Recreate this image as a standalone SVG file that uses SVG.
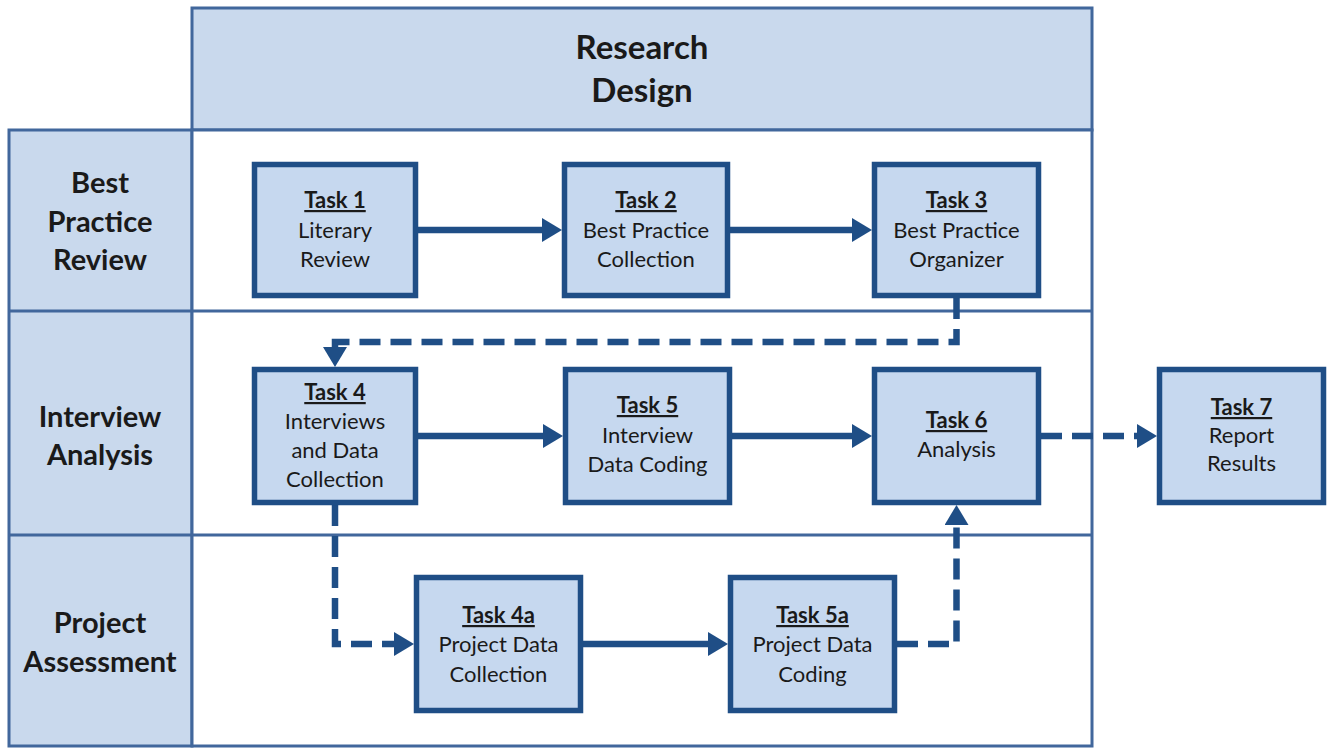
<svg xmlns="http://www.w3.org/2000/svg" width="1331" height="749" viewBox="0 0 1331 749">
<defs>
<style>
.frame{stroke:#41679c;stroke-width:3;}
.band{fill:#c9d9ed;}
.box{fill:#c6d8ef;stroke:#1f4e86;stroke-width:5.5;}
.conn{fill:none;stroke:#1f4e86;stroke-width:6.5;}
.dash{stroke-dasharray:21 10;}
.hdr{font-family:Lato,"Liberation Sans",sans-serif;font-weight:bold;fill:#1a1a1a;text-anchor:middle;}
.t{font-family:Lato,"Liberation Sans",sans-serif;font-size:22px;fill:#1a1a1a;text-anchor:middle;}
.tt{font-weight:bold;text-decoration:underline;}
</style>
<marker id="ah" markerUnits="userSpaceOnUse" viewBox="0 0 20 24" markerWidth="20" markerHeight="24" refX="1" refY="12" orient="auto">
<path d="M0,0 L20,12 L0,24 z" fill="#1f4e86"/>
</marker>
</defs>

<g id="frame">
<rect x="192" y="8" width="900" height="122" class="band frame"/>
<rect x="9" y="130" width="183" height="616" class="band frame"/>
<rect x="192" y="130" width="900" height="616" fill="#ffffff" class="frame"/>
<line x1="9" y1="311" x2="1092" y2="311" class="frame"/>
<line x1="9" y1="535" x2="1092" y2="535" class="frame"/>
</g>

<g id="header">
<text class="hdr" font-size="33" x="642" y="59">Research</text>
<text class="hdr" font-size="33" x="642" y="102">Design</text>
</g>

<g id="lane-best-practice">
<text class="hdr" font-size="29" x="100" y="193">Best</text>
<text class="hdr" font-size="29" x="100" y="232">Practice</text>
<text class="hdr" font-size="29" x="100" y="270">Review</text>
</g>
<g id="lane-interview">
<text class="hdr" font-size="29" x="100" y="427">Interview</text>
<text class="hdr" font-size="29" x="100" y="465">Analysis</text>
</g>
<g id="lane-project">
<text class="hdr" font-size="29" x="100" y="633">Project</text>
<text class="hdr" font-size="29" x="100" y="672">Assessment</text>
</g>

<g id="connectors">
<path class="conn" d="M418,230 H543" marker-end="url(#ah)"/>
<path class="conn" d="M730,230 H853" marker-end="url(#ah)"/>
<path class="conn" d="M418,436 H544" marker-end="url(#ah)"/>
<path class="conn" d="M732,436 H853" marker-end="url(#ah)"/>
<path class="conn" d="M583,644 H709" marker-end="url(#ah)"/>
<path class="conn dash" d="M956.5,298 V342 H335 V348" marker-end="url(#ah)"/>
<path class="conn dash" d="M335,505 V644 H395" marker-end="url(#ah)"/>
<path class="conn dash" d="M897,644 H956.5 V524" marker-end="url(#ah)"/>
<path class="conn dash" d="M1041,436 H1138" marker-end="url(#ah)"/>
</g>

<g id="task1">
<rect class="box" x="254.5" y="164.5" width="161" height="131"/>
<text class="t" x="335" y="208"><tspan class="tt">Task 1</tspan></text>
<text class="t" x="335" y="238">Literary</text>
<text class="t" x="335" y="267">Review</text>
</g>
<g id="task2">
<rect class="box" x="564.5" y="164.5" width="163" height="131"/>
<text class="t" x="646" y="208"><tspan class="tt">Task 2</tspan></text>
<text class="t" x="646" y="238">Best Practice</text>
<text class="t" x="646" y="267">Collection</text>
</g>
<g id="task3">
<rect class="box" x="874.5" y="164.5" width="164" height="131"/>
<text class="t" x="956.5" y="208"><tspan class="tt">Task 3</tspan></text>
<text class="t" x="956.5" y="238">Best Practice</text>
<text class="t" x="956.5" y="267">Organizer</text>
</g>
<g id="task4">
<rect class="box" x="254.5" y="369.5" width="161" height="133"/>
<text class="t" x="335" y="400"><tspan class="tt">Task 4</tspan></text>
<text class="t" x="335" y="429">Interviews</text>
<text class="t" x="335" y="458">and Data</text>
<text class="t" x="335" y="487">Collection</text>
</g>
<g id="task5">
<rect class="box" x="565.5" y="369.5" width="164" height="133"/>
<text class="t" x="647.5" y="413"><tspan class="tt">Task 5</tspan></text>
<text class="t" x="647.5" y="443">Interview</text>
<text class="t" x="647.5" y="472">Data Coding</text>
</g>
<g id="task6">
<rect class="box" x="874.5" y="369.5" width="164" height="133"/>
<text class="t" x="956.5" y="428"><tspan class="tt">Task 6</tspan></text>
<text class="t" x="956.5" y="457">Analysis</text>
</g>
<g id="task7">
<rect class="box" x="1159.5" y="369.5" width="164" height="133"/>
<text class="t" x="1241.5" y="415"><tspan class="tt">Task 7</tspan></text>
<text class="t" x="1241.5" y="443">Report</text>
<text class="t" x="1241.5" y="471">Results</text>
</g>
<g id="task4a">
<rect class="box" x="416.5" y="577.5" width="164" height="133"/>
<text class="t" x="498.5" y="623"><tspan class="tt">Task 4a</tspan></text>
<text class="t" x="498.5" y="652">Project Data</text>
<text class="t" x="498.5" y="682">Collection</text>
</g>
<g id="task5a">
<rect class="box" x="730.5" y="577.5" width="164" height="133"/>
<text class="t" x="812.5" y="623"><tspan class="tt">Task 5a</tspan></text>
<text class="t" x="812.5" y="652">Project Data</text>
<text class="t" x="812.5" y="682">Coding</text>
</g>
</svg>
